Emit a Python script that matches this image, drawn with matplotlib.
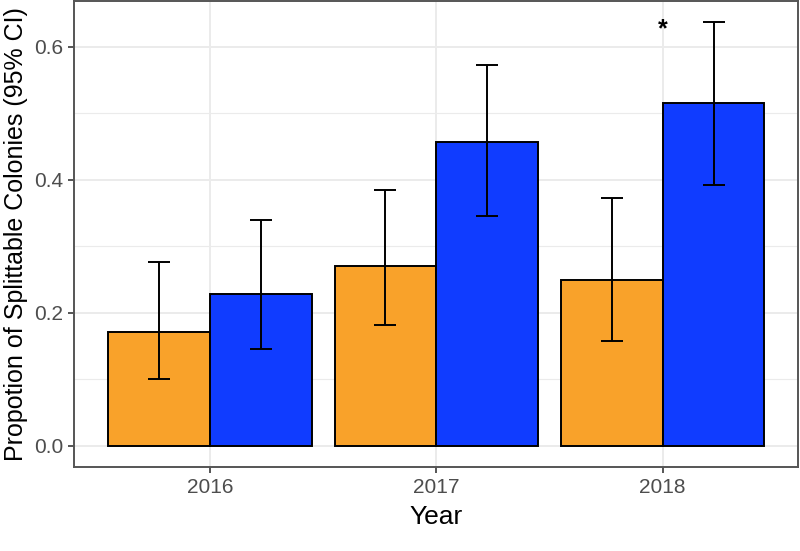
import matplotlib
matplotlib.use("Agg")
import matplotlib.pyplot as plt
from matplotlib.ticker import MultipleLocator
import numpy as np

# data
years = ["2016", "2017", "2018"]
orange_vals = [0.171, 0.271, 0.249]
orange_lo = [0.100, 0.181, 0.157]
orange_hi = [0.276, 0.385, 0.372]
blue_vals = [0.228, 0.457, 0.516]
blue_lo = [0.146, 0.345, 0.393]
blue_hi = [0.339, 0.573, 0.638]
star_year = 2          # index of the year marked with *
star_y = 0.627

plt.rcParams['font.family'] = ['Liberation Sans', 'DejaVu Sans']

fig = plt.figure(figsize=(8, 5.51), dpi=100)
ax = fig.add_axes([0.093, 0.153, 0.905, 0.845])

x = np.arange(1, len(years) + 1)
w = 0.45
xo = x - w / 2
xb = x + w / 2

ax.bar(xo, orange_vals, width=w, color="#F9A22A", edgecolor="black", linewidth=1.4, zorder=3)
ax.bar(xb, blue_vals, width=w, color="#103CFF", edgecolor="black", linewidth=1.4, zorder=3)

o_err = [np.array(orange_vals) - np.array(orange_lo), np.array(orange_hi) - np.array(orange_vals)]
b_err = [np.array(blue_vals) - np.array(blue_lo), np.array(blue_hi) - np.array(blue_vals)]
ax.errorbar(xo, orange_vals, yerr=o_err, fmt="none", ecolor="black", elinewidth=1.4,
            capsize=8, capthick=1.4, zorder=4)
ax.errorbar(xb, blue_vals, yerr=b_err, fmt="none", ecolor="black", elinewidth=1.4,
            capsize=8, capthick=1.4, zorder=4)

ax.text(x[star_year], star_y, "*", ha="center", va="center", fontsize=18,
        fontweight="bold", zorder=5)

ax.set_xlim(0.4, 3.6)
ax.set_ylim(-0.0316, 0.669)
ax.set_xticks(x)
ax.set_xticklabels(years)
ax.yaxis.set_major_locator(MultipleLocator(0.2))
ax.yaxis.set_minor_locator(MultipleLocator(0.1))
ax.yaxis.set_major_formatter(matplotlib.ticker.FormatStrFormatter("%.1f"))

ax.grid(which="major", color="#EBEBEB", linewidth=1.4, zorder=0)
ax.grid(which="minor", axis="y", color="#EBEBEB", linewidth=0.8, zorder=0)
ax.set_axisbelow(True)

for s in ax.spines.values():
    s.set_color("#555555")
    s.set_linewidth(1.4)

ax.tick_params(which="major", length=4, width=1.4, color="#555555",
               labelsize=15, labelcolor="#4D4D4D", pad=4)
ax.tick_params(which="minor", length=0)

ax.set_xlabel("Year", fontsize=19, labelpad=6)
ax.set_ylabel("Propotion of Splittable Colonies (95% CI)", fontsize=18, labelpad=4)

fig.savefig("out.png", dpi=100)
